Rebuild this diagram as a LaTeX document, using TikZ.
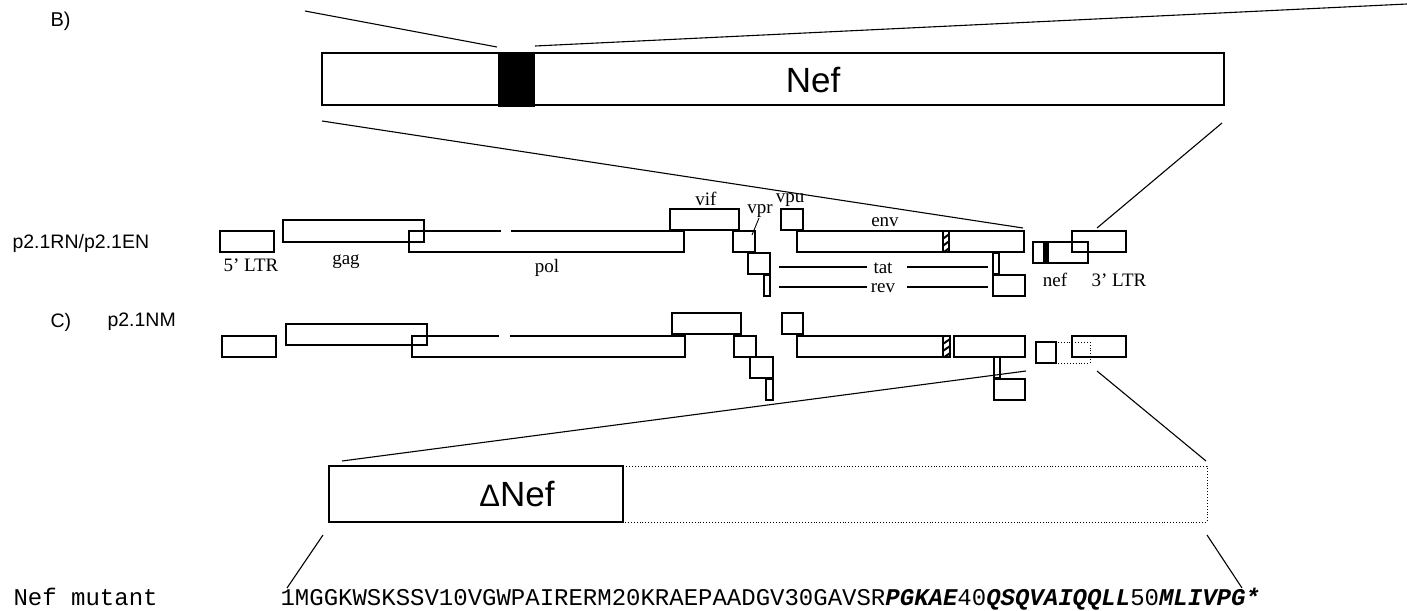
\documentclass[tikz,border=0pt]{standalone}
\usepackage{fontspec}
\setmainfont{Liberation Serif}
\newfontfamily\arial{Liberation Sans}
\newfontfamily\cour{Liberation Mono}
\begin{document}
\begin{tikzpicture}[x=1pt,y=-1pt,line width=1.1pt,
  gbox/.style={draw=black,line width=1.1pt},
  glab/.style={font=\fontsize{19}{19}\selectfont,inner sep=0pt,anchor=base},
  side/.style={font=\arial\fontsize{19.5}{19.5}\selectfont,inner sep=0pt,anchor=west},
  big/.style={font=\arial\fontsize{35}{35}\selectfont,inner sep=0pt},
  seq/.style={font=\cour\fontsize{24}{24}\selectfont,inner sep=0pt,anchor=base west},
  dotbox/.style={draw=black,dotted,line width=0.9pt}]
\useasboundingbox (0,0) rectangle (1407,610);

% ---------- B) enlarged Nef ----------
\node[side,font=\arial\fontsize{20}{20}\selectfont] (lB) at (50,21) {B)};
\draw[line width=1.2pt] (322,53) rectangle (1224,105);
\fill (498,52) rectangle (535,107);
\node[big] (nefbig) at (813,80) {Nef};
\coordinate (tl1) at (305,11);  \coordinate (tl2) at (497,47);
\coordinate (tr1) at (535,46);  \coordinate (tr2) at (1407,4);
\draw (tl1) -- (tl2);
\draw (tr1) -- (tr2);
\coordinate (bl1) at (322,121); \coordinate (bl2) at (1023,228);
\coordinate (br1) at (1222,123); \coordinate (br2) at (1097,228);
\draw (bl1) -- (bl2);
\draw (br1) -- (br2);

% ---------- row labels ----------
\node[side] (l1) at (12,243) {p2.1RN/p2.1EN};
\node[side] (lC) at (50,322) {C)};
\node[side] (l2) at (107,322) {p2.1NM};

% ---------- genome row 1 ----------
\draw[gbox] (220,231) rectangle (274,252);
\draw[gbox] (501,231) -- (409,231) -- (409,252) -- (684,252) -- (684,231) -- (511,231);
\draw[gbox] (283,220) rectangle (424,242);
\draw[gbox] (670,209) rectangle (739,230);
\draw[gbox] (733,231) rectangle (755,252);
\draw[gbox] (748,253) rectangle (770,274);
\draw[gbox] (764,275) rectangle (770,296);
\draw[gbox] (781,209) rectangle (803,230);
\draw[gbox] (797,231) rectangle (1024,252);
\begin{scope}
  \clip (943,231) rectangle (949,252);
  \foreach \k in {0,7,14,21} \draw[line width=2pt] (940,234+\k) -- (952,225+\k);
\end{scope}
\draw[gbox] (943,231) rectangle (949,252);
\draw[gbox] (993,253) rectangle (999,274);
\draw[gbox] (993,275) rectangle (1025,296);
\draw[gbox] (1033,242) rectangle (1088,263);
\fill (1043,242) rectangle (1049,263);
\draw[gbox] (1072,231) rectangle (1126,252);

\node[glab] (t5) at (251,271) {5’ LTR};
\node[glab] (tgag) at (346,264) {gag};
\node[glab] (tpol) at (547,272) {pol};
\node[glab] (tvif) at (706,205) {vif};
\node[glab] (tvpr) at (760,213) {vpr};
\node[glab] (tvpu) at (790,202) {vpu};
\node[glab] (tenv) at (885,226) {env};
\node[glab] (ttat) at (883,273) {tat};
\node[glab] (trev) at (883,292) {rev};
\node[glab] (tnef) at (1055,286) {nef};
\node[glab] (t3) at (1119,286) {3’ LTR};
\draw[line width=0.9pt] (759,218) -- (752,235);
\draw (779,267) -- (867,267);
\draw (907,267) -- (988,267);
\draw (779,287) -- (867,287);
\draw (907,287) -- (988,287);

% ---------- genome row 2 ----------
\draw[gbox] (222,336) rectangle (276,357);
\draw[gbox] (499,336) -- (412,336) -- (412,357) -- (685,357) -- (685,336) -- (510,336);
\draw[gbox] (286,324) rectangle (427,345);
\draw[gbox] (672,313) rectangle (741,334);
\draw[gbox] (734,336) rectangle (756,357);
\draw[gbox] (750,357) rectangle (773,378);
\draw[gbox] (766,379) rectangle (773,400);
\draw[gbox] (782,313) rectangle (803,334);
\draw[gbox] (797,336) rectangle (950,357);
\begin{scope}
  \clip (943,336) rectangle (950,357);
  \foreach \k in {0,7,14,21} \draw[line width=2pt] (940,339+\k) -- (953,330+\k);
\end{scope}
\draw[gbox] (943,336) rectangle (950,357);
\draw[gbox] (954,336) rectangle (1025,357);
\draw[gbox] (994,357) rectangle (1000,378);
\draw[gbox] (994,379) rectangle (1025,400);
\draw[dotbox] (1056,342) rectangle (1090,363);
\draw[gbox] (1036,342) rectangle (1056,363);
\draw[gbox] (1072,336) rectangle (1126,357);

\coordinate (zl1) at (1026,371); \coordinate (zl2) at (342,461);
\coordinate (zr1) at (1097,371); \coordinate (zr2) at (1206,461);
\draw (zl1) -- (zl2);
\draw (zr1) -- (zr2);

% ---------- Delta Nef ----------
\draw[dotbox] (623,466) rectangle (1207,522);
\draw[line width=1.2pt] (329,466) rectangle (623,522);
\node[big] (dnef) at (517,494) {{\fontsize{31}{31}\selectfont Δ}Nef};
\coordinate (sl1) at (323,535); \coordinate (sl2) at (287,588);
\coordinate (sr1) at (1207,535); \coordinate (sr2) at (1242,588);
\draw (sl1) -- (sl2);
\draw (sr1) -- (sr2);

% ---------- sequence ----------
\node[seq] (nm) at (13,605) {Nef mutant};
\node[seq] (sq) at (280,605) {1MGGKWSKSSV10VGWPAIRERM20KRAEPAADGV30GAVSR{\bfseries\itshape PGKAE}40{\bfseries\itshape QSQVAIQQLL}50{\bfseries\itshape MLIVPG*}};
\end{tikzpicture}
\end{document}
